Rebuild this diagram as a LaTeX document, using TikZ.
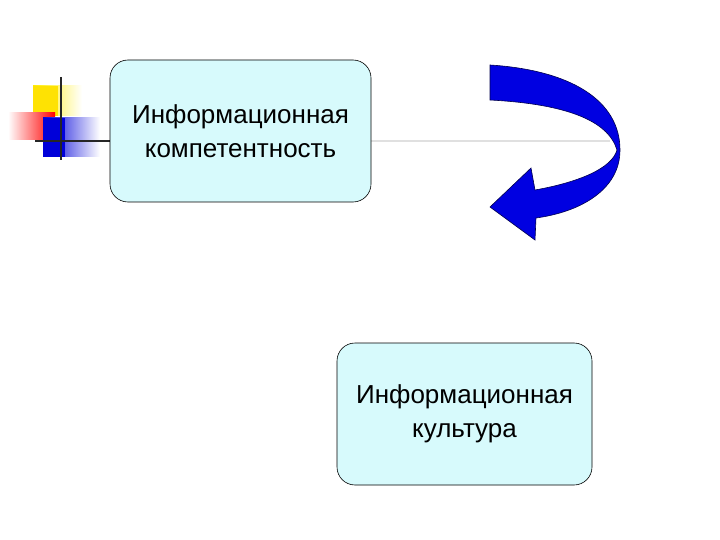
\documentclass[tikz,border=0pt]{standalone}
\usepackage{fontspec}
\setmainfont{Liberation Sans}
\definecolor{boxfill}{RGB}{215,250,252}
\definecolor{arrblue}{RGB}{0,0,225}
\begin{document}
\begin{tikzpicture}[x=1pt,y=-1pt,
  box/.style={draw=black,fill=boxfill,rounded corners=18pt,line width=0.6pt,align=center,
     font=\fontsize{26}{34}\selectfont},
  fade/.style={opacity=0.9}]
\useasboundingbox (0,0) rectangle (720,540);
% decoration
\shade[left color=yellow!85!orange,right color=white] (33,86) rectangle (82,116);
\fill[yellow!85!orange] (33,86) rectangle (58,116);
\shade[left color=white,right color=red] (8,113) rectangle (55,140);
\shade[left color=blue!85!black,right color=white] (43,118) rectangle (100,157);
\fill[blue!85!black] (43,118) rectangle (65,157);
\draw[line width=2pt,black!85] (61,77) -- (61,160);
\draw[line width=2pt,black!85] (35,141) -- (110,141);
\draw[line width=2pt,black!12] (371,141) -- (610,141);
% boxes
\node[box,minimum width=261pt,minimum height=142pt] (a) at (240.5,131) {Информационная\\компетентность};
\node[box,minimum width=255pt,minimum height=142pt] (b) at (464.5,414) {Информационная\\культура};
% arrow
\draw[fill=arrblue,draw=black!70!blue,line width=0.6pt]
 (490,65) .. controls (570,70) and (620,100) .. (620,150)
 .. controls (620,190) and (580,212) .. (536,218) -- (535,240) -- (490,207) -- (531,168) -- (535,190)
 .. controls (580,182) and (612,168) .. (617,150)
 .. controls (608,120) and (565,104) .. (490,100) -- cycle;
\end{tikzpicture}
\end{document}
